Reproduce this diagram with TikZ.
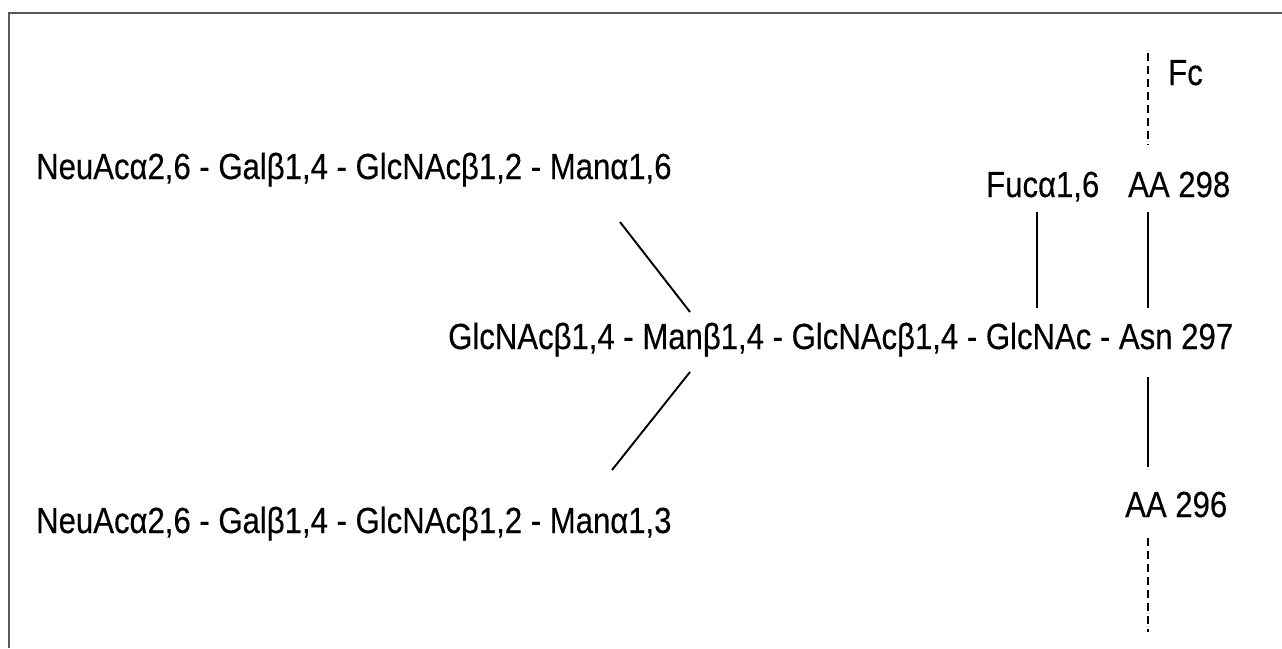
\documentclass[tikz,border=0pt]{standalone}
\usepackage{fontspec}
\setmainfont{Liberation Sans}[FakeStretch=0.857,FakeBold=0.3]
\begin{document}
\begin{tikzpicture}[x=1pt,y=-1pt,
  every node/.style={inner sep=0pt, font=\fontsize{36.3}{40}\selectfont},
  label/.style={anchor=base west},
  bond/.style={line width=1.9pt},
  peptide/.style={line width=1.7pt, dash pattern=on 8pt off 5pt},
  frame/.style={line width=2pt, draw=black!65}]
\useasboundingbox (0,0) rectangle (1282,648);
\fill[white] (0,0) rectangle (1282,648);
\draw[frame] (9,648) -- (9,13) -- (1282,13);

% text
\node[label] (arm6) at (36,179) {NeuAcα2,6 - Galβ1,4 - GlcNAcβ1,2 - Manα1,6};
\node[label] (core) at (448,349) {GlcNAcβ1,4 - Manβ1,4 - GlcNAcβ1,4 - GlcNAc - Asn 297};
\node[label] (arm3) at (36,533) {NeuAcα2,6 - Galβ1,4 - GlcNAcβ1,2 - Manα1,3};
\node[label] (fuc) at (986,197) {Fucα1,6};
\node[label] (aa298) at (1128,197) {AA 298};
\node[label] (aa296) at (1125,517) {AA 296};
\node[label] (fc) at (1168,85) {Fc};

% line ends
\coordinate (u1) at (620,222);
\coordinate (u2) at (690,312);
\coordinate (l1) at (690,372);
\coordinate (l2) at (612,470);
\coordinate (f1) at (1037,212);
\coordinate (f2) at (1037,308);
\coordinate (a1) at (1148,212);
\coordinate (a2) at (1148,308);
\coordinate (b1) at (1148,377);
\coordinate (b2) at (1148,467);
\coordinate (t1) at (1148,53);
\coordinate (t2) at (1148,145);
\coordinate (d1) at (1148,538);
\coordinate (d2) at (1148,632);

\draw[bond] (u1) -- (u2);
\draw[bond] (l1) -- (l2);
\draw[bond] (f1) -- (f2);
\draw[bond] (a1) -- (a2);
\draw[bond] (b1) -- (b2);
\draw[peptide] (t1) -- (t2);
\draw[peptide] (d1) -- (d2);
\end{tikzpicture}
\end{document}
